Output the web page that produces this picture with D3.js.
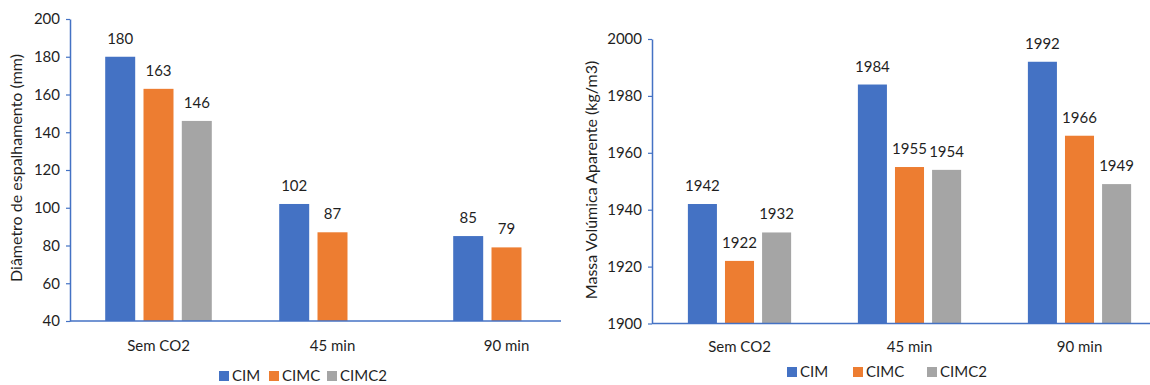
<!DOCTYPE html>
<html>
<head>
<meta charset="utf-8">
<script src="https://cdn.jsdelivr.net/npm/d3@7/dist/d3.min.js"></script>
<style>
  html, body { margin: 0; padding: 0; background: #fff; }
  svg { display: block; }
  text { font-family: Lato, "Open Sans", sans-serif; fill: #1f1f1f; }
</style>
</head>
<body>
<svg id="chart" width="1150" height="385"></svg>
<script>
// Categories and series
const categories = ["Sem CO2", "45 min", "90 min"];
const seriesNames = ["CIM", "CIMC", "CIMC2"];
const seriesColors = ["#4472C4", "#ED7D31", "#A5A5A5"];

// Spreading diameter (mm)
const spreadCIM = [180, 102, 85];
const spreadCIMC = [163, 87, 79];
const spreadCIMC2 = [146, null, null];
const spreadTicks = [40, 60, 80, 100, 120, 140, 160, 180, 200];

// Apparent bulk density (kg/m3)
const densityCIM = [1942, 1984, 1992];
const densityCIMC = [1922, 1955, 1966];
const densityCIMC2 = [1932, 1954, 1949];
const densityTicks = [1900, 1920, 1940, 1960, 1980, 2000];

const svg = d3.select("#chart");
const axisColor = "#4472C4";
const fontSize = "15px";

function drawPanel(cfg) {
  const g = svg.append("g");
  // white panel background
  g.append("rect")
    .attr("x", cfg.bgX).attr("y", 0)
    .attr("width", cfg.bgW).attr("height", 385)
    .attr("fill", "#fff");

  const y = d3.scaleLinear().domain(cfg.domain).range([cfg.yBottom, cfg.yTop]);
  const x0 = d3.scaleBand().domain(categories).range(cfg.xRange).padding(0);
  const x1 = d3.scaleBand().domain(seriesNames).range([0, x0.bandwidth()])
    .paddingInner(cfg.innerPad).paddingOuter(cfg.outerPad);

  const rows = [];
  categories.forEach((c, i) => {
    cfg.series.forEach((vals, s) => {
      if (vals[i] != null) rows.push({ cat: c, name: seriesNames[s], color: seriesColors[s], v: vals[i] });
    });
  });

  // bars
  g.selectAll("rect.bar").data(rows).enter().append("rect")
    .attr("class", "bar")
    .attr("x", d => x0(d.cat) + x1(d.name))
    .attr("y", d => y(d.v))
    .attr("width", x1.bandwidth())
    .attr("height", d => y(cfg.domain[0]) - y(d.v))
    .attr("fill", d => d.color);

  // value labels
  g.selectAll("text.val").data(rows).enter().append("text")
    .attr("class", "val")
    .attr("x", d => x0(d.cat) + x1(d.name) + x1.bandwidth() / 2)
    .attr("y", d => y(d.v) - 13)
    .attr("text-anchor", "middle")
    .style("font-size", fontSize)
    .text(d => d.v);

  // y axis
  const yAxis = d3.axisLeft(y).tickValues(cfg.ticks).tickFormat(d3.format("d"))
    .tickSize(4).tickPadding(6).tickSizeOuter(0);
  const ya = g.append("g").attr("transform", `translate(${cfg.axisX},0)`).call(yAxis);
  ya.select(".domain").attr("stroke", axisColor).attr("stroke-width", 1.5);
  ya.selectAll(".tick line").attr("stroke", axisColor).attr("stroke-width", 1.2);
  ya.selectAll(".tick text").style("font-size", fontSize)
    .style("font-family", "Lato, sans-serif").attr("fill", "#1f1f1f");

  // x axis baseline and category labels
  g.append("line")
    .attr("x1", cfg.axisX).attr("x2", cfg.xAxisEnd)
    .attr("y1", y(cfg.domain[0])).attr("y2", y(cfg.domain[0]))
    .attr("stroke", axisColor).attr("stroke-width", 1.5);
  g.selectAll("text.cat").data(categories).enter().append("text")
    .attr("class", "cat")
    .attr("x", d => x0(d) + x0.bandwidth() / 2)
    .attr("y", cfg.catY)
    .attr("text-anchor", "middle")
    .style("font-size", fontSize)
    .text(d => d);

  // y axis title
  g.append("text")
    .attr("transform", `translate(${cfg.titleX},${cfg.titleY}) rotate(-90)`)
    .attr("text-anchor", "middle")
    .style("font-size", "16px")
    .text(cfg.title);

  // legend
  const lg = g.append("g");
  seriesNames.forEach((n, i) => {
    const lx = cfg.legendX[i];
    lg.append("rect")
      .attr("x", lx).attr("y", cfg.legendY - 5)
      .attr("width", 10).attr("height", 10)
      .attr("fill", seriesColors[i]);
    lg.append("text")
      .attr("x", lx + 13).attr("y", cfg.legendY + 5)
      .style("font-size", fontSize)
      .text(n);
  });
}

// left panel: spreading diameter
drawPanel({
  bgX: 0, bgW: 562,
  domain: [40, 200], ticks: spreadTicks,
  yTop: 19, yBottom: 321,
  xRange: [71.5, 593.5],
  innerPad: 0.217, outerPad: 0.88,
  axisX: 70, xAxisEnd: 561,
  catY: 351,
  series: [spreadCIM, spreadCIMC, spreadCIMC2],
  title: "Diâmetro de espalhamento (mm)",
  titleX: 22, titleY: 168,
  legendX: [219, 269, 327], legendY: 376
});

// right panel: apparent bulk density (drawn over the left panel's overflow)
drawPanel({
  bgX: 562, bgW: 588,
  domain: [1900, 2000], ticks: densityTicks,
  yTop: 39, yBottom: 323.5,
  xRange: [654.5, 1164.5],
  innerPad: 0.217, outerPad: 0.9,
  axisX: 652, xAxisEnd: 1150,
  catY: 352,
  series: [densityCIM, densityCIMC, densityCIMC2],
  title: "Massa Volúmica Aparente (kg/m3)",
  titleX: 597, titleY: 180,
  legendX: [787, 853, 927], legendY: 372
});
</script>
</body>
</html>
